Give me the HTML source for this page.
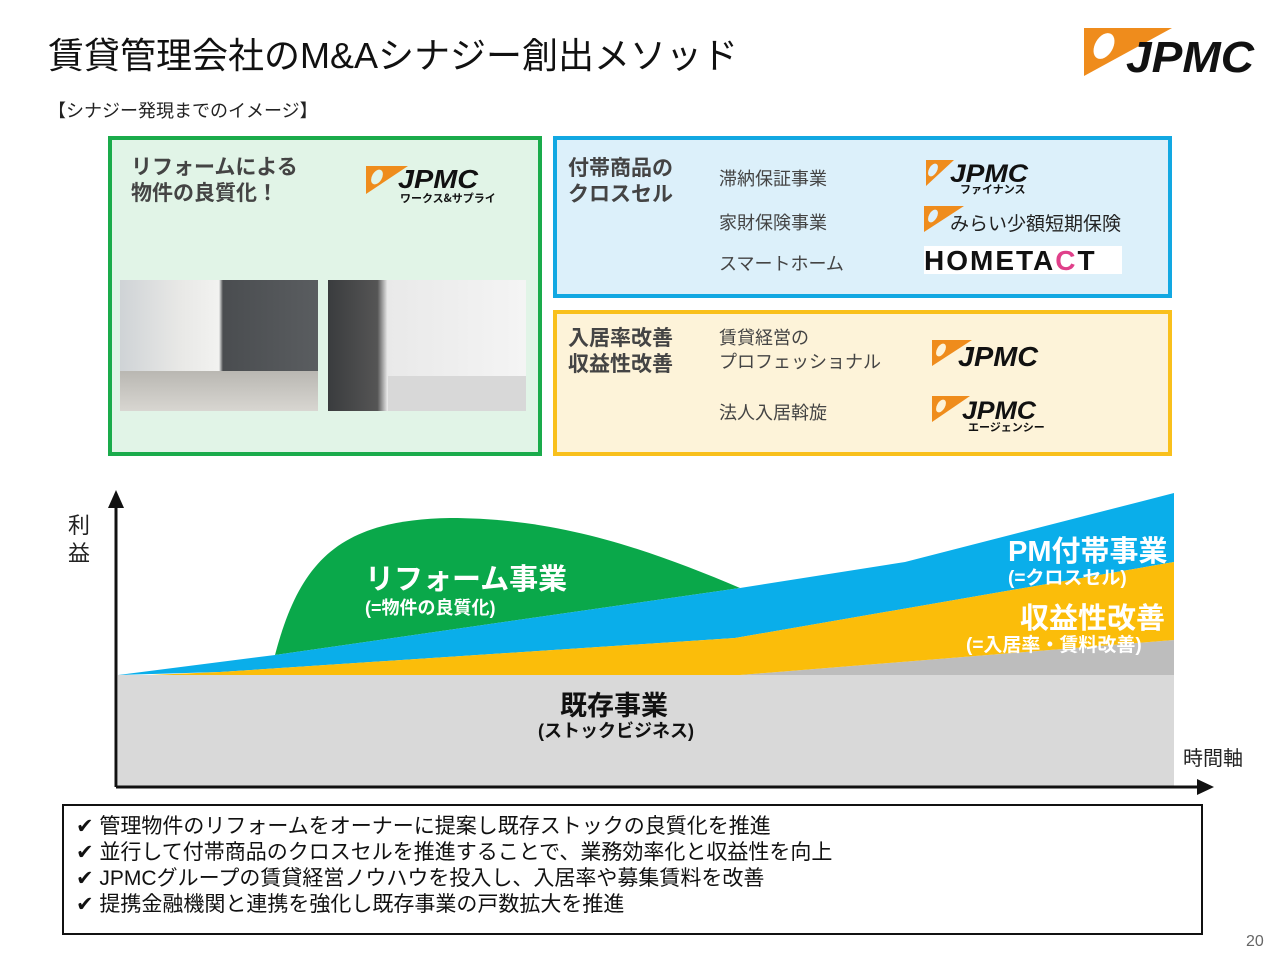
<!DOCTYPE html>
<html><head><meta charset="utf-8"><style>
*{margin:0;padding:0;box-sizing:border-box}
body{width:1280px;height:960px;background:#fff;position:relative;overflow:hidden;font-family:"Liberation Sans","Noto Sans CJK JP",sans-serif;color:#222}
.a{position:absolute;white-space:nowrap}
.b{font-weight:bold}
.logo{position:absolute}
</style></head><body>
<div class="a" style="left:48px;top:27px;font-size:36px;color:#111">賃貸管理会社のM&amp;Aシナジー創出メソッド</div>
<div class="a" style="left:48px;top:97px;font-size:18px;color:#222">【シナジー発現までのイメージ】</div>

<svg class="logo" style="left:1082px;top:26px" width="180" height="52"><polygon points="2,2 90,2 2,50" fill="#ef8c1c"/><ellipse cx="22" cy="20" rx="9" ry="14" fill="#fff" transform="rotate(30 22 20)"/><text x="44" y="46" font-family="Liberation Sans" font-weight="bold" font-style="italic" font-size="44" fill="#111" textLength="128" lengthAdjust="spacingAndGlyphs">JPMC</text></svg>

<div class="a" style="left:108px;top:136px;width:434px;height:320px;border:4px solid #1aab4b;background:#e1f4e7"></div>
<div class="a b" style="left:131px;top:155px;font-size:21px;line-height:26px;color:#444">リフォームによる<br>物件の良質化！</div>
<svg class="logo" style="left:364px;top:164px" width="140" height="40"><polygon points="2,2 44,2 2,30" fill="#ef8c1c"/><ellipse cx="13" cy="13" rx="5" ry="8" fill="#e1f4e7" transform="rotate(30 13 13)"/><text x="34" y="24" font-family="Liberation Sans" font-weight="bold" font-style="italic" font-size="26" fill="#111" textLength="80" lengthAdjust="spacingAndGlyphs">JPMC</text><text x="36" y="38" font-size="11" font-weight="bold" fill="#111" font-family="Noto Sans CJK JP">ワークス&amp;サプライ</text></svg>
<div class="a" style="left:120px;top:280px;width:198px;height:131px;background:linear-gradient(90deg,#cfd3d6 0%,#e8e8e6 30%,#f2f2f0 50%,#4a4d50 52%,#5a5d60 100%)"><div style="position:absolute;left:0;bottom:0;width:198px;height:40px;background:linear-gradient(#b9b7b2,#d8d6d1)"></div></div>
<div class="a" style="left:328px;top:280px;width:198px;height:131px;background:linear-gradient(90deg,#3a3c3e 0%,#555 25%,#e9e9e9 30%,#f4f4f4 100%)"><div style="position:absolute;left:60px;bottom:0;width:138px;height:35px;background:#d8d8d8"></div></div>

<div class="a" style="left:553px;top:136px;width:619px;height:162px;border:4px solid #12a8e2;background:#dcf0fa"></div>
<div class="a b" style="left:568px;top:156px;font-size:21px;line-height:26px;color:#444">付帯商品の<br>クロスセル</div>
<div class="a" style="left:719px;top:165px;font-size:18px;color:#444">滞納保証事業</div>
<div class="a" style="left:719px;top:209px;font-size:18px;color:#444">家財保険事業</div>
<div class="a" style="left:719px;top:250px;font-size:18px;color:#444">スマートホーム</div>
<svg class="logo" style="left:924px;top:158px" width="120" height="38"><polygon points="2,2 30,2 2,28" fill="#ef8c1c"/><ellipse cx="9" cy="12" rx="4" ry="7" fill="#dcf0fa" transform="rotate(30 9 12)"/><text x="26" y="24" font-family="Liberation Sans" font-weight="bold" font-style="italic" font-size="25" fill="#111" textLength="78" lengthAdjust="spacingAndGlyphs">JPMC</text><text x="36" y="35" font-size="11" font-weight="bold" fill="#111" font-family="Noto Sans CJK JP">ファイナンス</text></svg>
<svg class="logo" style="left:922px;top:204px" width="210" height="32"><polygon points="2,2 42,2 2,28" fill="#ef8c1c"/><ellipse cx="11" cy="12" rx="4" ry="7" fill="#dcf0fa" transform="rotate(30 11 12)"/><text x="28" y="26" font-size="19" fill="#222" font-family="Noto Sans CJK JP">みらい少額短期保険</text></svg>
<div class="a" style="left:924px;top:246px;width:198px;height:28px;background:#fff;font-size:28px;font-weight:bold;line-height:30px;color:#111;letter-spacing:2px">HOMETA<span style="color:#e0408a">C</span>T</div>

<div class="a" style="left:553px;top:310px;width:619px;height:146px;border:4px solid #f9c01c;background:#fdf3d9"></div>
<div class="a b" style="left:568px;top:326px;font-size:21px;line-height:26px;color:#444">入居率改善<br>収益性改善</div>
<div class="a" style="left:719px;top:326px;font-size:18px;line-height:24px;color:#444">賃貸経営の<br>プロフェッショナル</div>
<div class="a" style="left:719px;top:399px;font-size:18px;color:#444">法人入居斡旋</div>
<svg class="logo" style="left:930px;top:338px" width="120" height="36"><polygon points="2,2 42,2 2,28" fill="#ef8c1c"/><ellipse cx="11" cy="12" rx="4" ry="7" fill="#fdf3d9" transform="rotate(30 11 12)"/><text x="28" y="28" font-family="Liberation Sans" font-weight="bold" font-style="italic" font-size="28" fill="#111" textLength="80" lengthAdjust="spacingAndGlyphs">JPMC</text></svg>
<svg class="logo" style="left:930px;top:394px" width="130" height="40"><polygon points="2,2 40,2 2,28" fill="#ef8c1c"/><ellipse cx="11" cy="12" rx="4" ry="7" fill="#fdf3d9" transform="rotate(30 11 12)"/><text x="32" y="25" font-family="Liberation Sans" font-weight="bold" font-style="italic" font-size="25" fill="#111" textLength="74" lengthAdjust="spacingAndGlyphs">JPMC</text><text x="38" y="37" font-size="11" font-weight="bold" fill="#111" font-family="Noto Sans CJK JP">エージェンシー</text></svg>

<svg class="a" style="left:0;top:0" width="1280" height="960">
<rect x="118" y="675" width="1056" height="112" fill="#d9d9d9"/>
<polygon points="740,675 1174,640 1174,675" fill="#bdbdbd"/>
<path d="M275,655 C300,560 340,520 450,518 C560,518 650,550 740,588 Z" fill="#0aa84a"/>
<polygon points="118,675 275,655 740,588 905,562 1174,493 1174,562 735,638 220,672" fill="#0aaeea"/>
<polygon points="150,675 220,672 735,638 1174,562 1174,640 740,675" fill="#fbbd0a"/>
<line x1="116" y1="787" x2="116" y2="500" stroke="#111" stroke-width="3"/>
<polygon points="116,490 108,508 124,508" fill="#111"/>
<line x1="116" y1="787" x2="1200" y2="787" stroke="#111" stroke-width="3"/>
<polygon points="1214,787 1197,779 1197,795" fill="#111"/>
</svg>
<div class="a" style="left:68px;top:512px;font-size:22px;line-height:28px;color:#222">利<br>益</div>
<div class="a" style="left:1183px;top:742px;font-size:20px;color:#222">時間軸</div>
<div class="a b" style="left:365px;top:556px;font-size:29px;color:#fff">リフォーム事業</div>
<div class="a b" style="left:365px;top:594px;font-size:18px;color:#fff">(=物件の良質化)</div>
<div class="a b" style="left:1008px;top:528px;font-size:29px;color:#fff">PM付帯事業</div>
<div class="a b" style="left:1008px;top:563px;font-size:19px;color:#fff">(=クロスセル)</div>
<div class="a b" style="left:1020px;top:595px;font-size:29px;color:#fff">収益性改善</div>
<div class="a b" style="left:966px;top:630px;font-size:19px;color:#fff">(=入居率・賃料改善)</div>
<div class="a b" style="left:560px;top:684px;font-size:27px;color:#111">既存事業</div>
<div class="a b" style="left:538px;top:717px;font-size:18px;color:#111">(ストックビジネス)</div>

<div class="a" style="left:62px;top:804px;width:1141px;height:131px;border:2px solid #111"></div>
<div class="a" style="left:76px;top:814px;font-size:21px;line-height:26px;color:#111">✔ 管理物件のリフォームをオーナーに提案し既存ストックの良質化を推進<br>✔ 並行して付帯商品のクロスセルを推進することで、業務効率化と収益性を向上<br>✔ JPMCグループの賃貸経営ノウハウを投入し、入居率や募集賃料を改善<br>✔ 提携金融機関と連携を強化し既存事業の戸数拡大を推進</div>
<div class="a" style="left:1246px;top:933px;font-size:16px;color:#666">20</div>
</body></html>
